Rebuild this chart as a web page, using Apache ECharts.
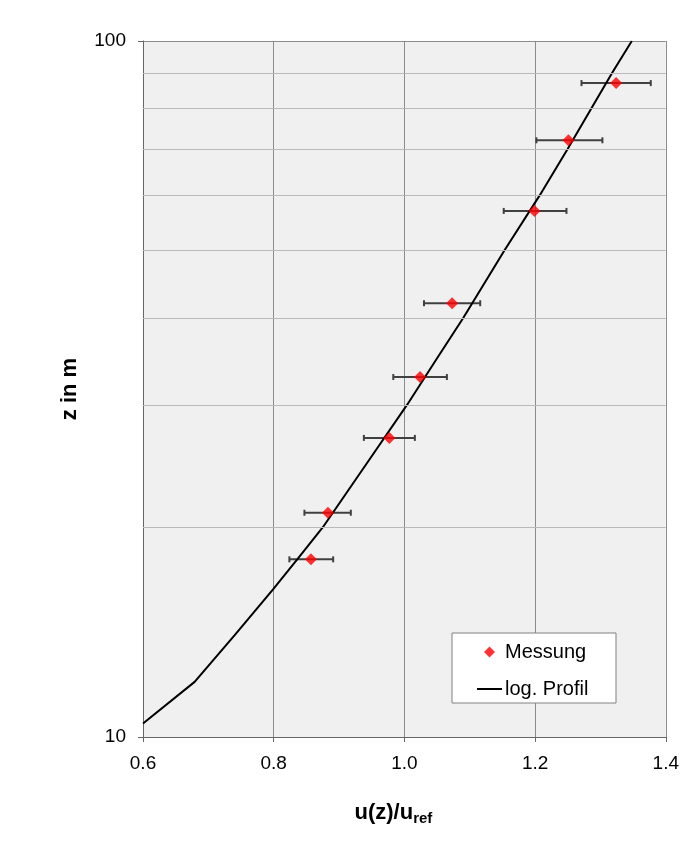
<!DOCTYPE html>
<html>
<head>
<meta charset="utf-8">
<script src="https://cdn.jsdelivr.net/npm/echarts@6/dist/echarts.min.js"></script>
<style>
html,body{margin:0;padding:0;background:#fff;overflow:hidden;}
#chart{width:682px;height:843px;}
</style>
</head>
<body>
<div id="chart"></div>
<script>
// Measurements (Messung)
const zMeas = [18, 21, 26.9, 32.9, 42, 57, 72, 87];
const uMeas = [0.857, 0.883, 0.977, 1.024, 1.073, 1.199, 1.251, 1.324];
const uLow  = [0.824, 0.847, 0.938, 0.983, 1.030, 1.152, 1.202, 1.271];
const uHigh = [0.891, 0.918, 1.016, 1.065, 1.116, 1.248, 1.303, 1.377];

// log. Profil
const zLine = [10.46, 12, 14, 16.3, 18, 20, 25, 30, 35, 40, 50, 60, 70, 80, 90, 100];
const uLine = [0.600, 0.679, 0.740, 0.799, 0.836, 0.875, 0.946, 1.004, 1.050, 1.090, 1.153, 1.207, 1.250, 1.286, 1.318, 1.348];

// horizontal grid lines on the log axis
const yGrid = [20, 30, 40, 50, 60, 70, 80, 90];

const FONT = '"Liberation Sans", Arial, sans-serif';

const chart = echarts.init(document.getElementById('chart'), null, {renderer: 'canvas', width: 682, height: 843});

const measData = zMeas.map((z, i) => [uMeas[i], z]);
const errData = zMeas.map((z, i) => [uLow[i], uHigh[i], z]);
const lineData = zLine.map((z, i) => [uLine[i], z]);

const option = {
  backgroundColor: '#ffffff',
  animation: false,
  grid: {
    left: 143, right: 13, top: 41, bottom: 106,
    show: true, backgroundColor: '#f0f0f0', borderWidth: 0
  },
  xAxis: {
    type: 'value', min: 0.6, max: 1.4, interval: 0.2,
    name: '{m|u(z)/u}{s|ref}',
    nameLocation: 'middle', nameGap: 63,
    nameTextStyle: {
      padding: [0, 22, 0, 0],
      rich: {
        m: {fontFamily: FONT, fontSize: 22, fontWeight: 'bold', color: '#000', lineHeight: 26},
        s: {fontFamily: FONT, fontSize: 15, fontWeight: 'bold', color: '#000', verticalAlign: 'bottom', lineHeight: 18}
      }
    },
    axisLine: {show: true, lineStyle: {color: '#666666', width: 1}},
    axisTick: {show: true, inside: false, length: 5, lineStyle: {color: '#666666'}},
    axisLabel: {
      margin: 17, fontFamily: FONT, fontSize: 19, color: '#000',
      formatter: v => v.toFixed(1)
    },
    splitLine: {show: true, lineStyle: {color: '#8c8c8c', width: 1}}
  },
  yAxis: {
    type: 'log', logBase: 10, min: 10, max: 100,
    name: 'z in m',
    nameLocation: 'middle', nameGap: 62, nameRotate: 90,
    nameTextStyle: {fontFamily: FONT, fontSize: 22, fontWeight: 'bold', color: '#000'},
    axisLine: {show: true, lineStyle: {color: '#666666', width: 1}},
    axisTick: {show: true, inside: false, length: 5, lineStyle: {color: '#666666'}},
    axisLabel: {margin: 17, fontFamily: FONT, fontSize: 19, color: '#000'},
    splitLine: {show: true, lineStyle: {color: '#8c8c8c', width: 1}}
  },
  legend: {
    orient: 'vertical',
    left: 477, top: 642,
    padding: 0,
    itemGap: 17,
    itemWidth: 25, itemHeight: 11,
    data: [
      {name: 'Messung', icon: 'path://M5,0 L10,5 L5,10 L0,5 Z'},
      {name: 'log. Profil', icon: 'path://M0,0 L25,0 L25,2 L0,2 Z'}
    ],
    textStyle: {fontFamily: FONT, fontSize: 20, color: '#000', lineHeight: 17, padding: [0, 0, 0, -2]},
    z: 10
  },
  graphic: [{
    type: 'rect', z: 5,
    shape: {x: 452, y: 633, width: 164, height: 70},
    style: {fill: '#ffffff', stroke: '#808080', lineWidth: 1}
  }],
  series: [
    {
      name: 'grid', type: 'line', data: [], z: 1, silent: true,
      markLine: {
        silent: true, symbol: 'none', animation: false,
        label: {show: false},
        lineStyle: {color: '#b9b9b9', type: 'solid', width: 1},
        data: yGrid.map(v => ({yAxis: v}))
      }
    },
    {
      name: 'err', type: 'custom', z: 3, silent: true,
      data: errData,
      renderItem: function (params, api) {
        const lo = api.coord([api.value(0), api.value(2)]);
        const hi = api.coord([api.value(1), api.value(2)]);
        const c = 3;
        const st = {stroke: '#404040', lineWidth: 2};
        return {
          type: 'group',
          children: [
            {type: 'line', shape: {x1: lo[0], y1: lo[1], x2: hi[0], y2: hi[1]}, style: st},
            {type: 'line', shape: {x1: lo[0], y1: lo[1] - c, x2: lo[0], y2: lo[1] + c}, style: st},
            {type: 'line', shape: {x1: hi[0], y1: hi[1] - c, x2: hi[0], y2: hi[1] + c}, style: st}
          ]
        };
      }
    },
    {
      name: 'log. Profil', type: 'line', z: 4,
      data: lineData, symbol: 'none', showSymbol: false,
      lineStyle: {color: '#000000', width: 2},
      itemStyle: {color: '#000000'}
    },
    {
      name: 'Messung', type: 'scatter', z: 5,
      data: measData, symbol: 'diamond', symbolSize: 12,
      itemStyle: {color: '#ff0000'}
    }
  ]
};
chart.setOption(option);
</script>
</body>
</html>
